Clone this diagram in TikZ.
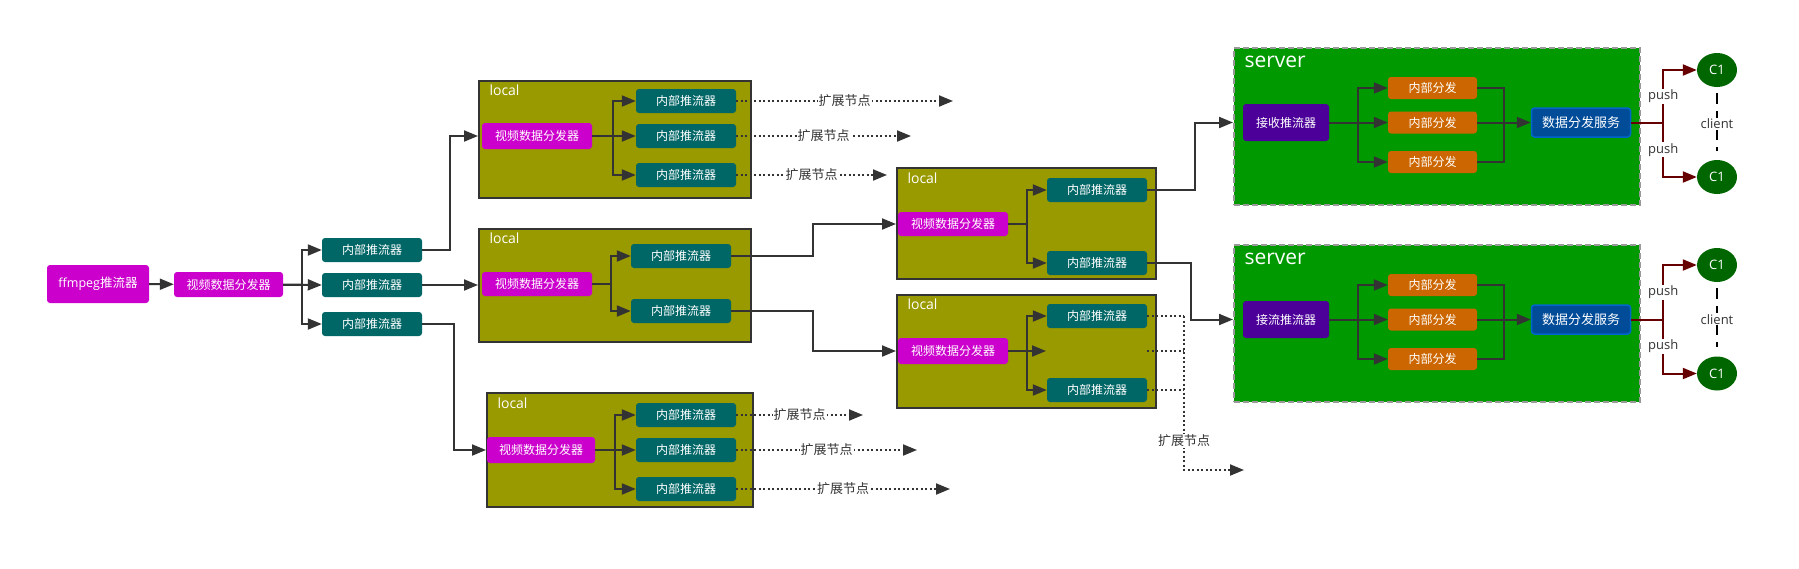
\documentclass[tikz,border=0pt]{standalone}
\usepackage{fontspec}
\setmainfont{Noto Sans CJK SC}
\newfontfamily\lat{Open Sans}
\usetikzlibrary{arrows.meta,shapes.geometric}
\definecolor{mag}{HTML}{CC00CC}
\definecolor{tealbox}{HTML}{006666}
\definecolor{olivebox}{HTML}{999900}
\definecolor{greenbox}{HTML}{009900}
\definecolor{orangebox}{HTML}{CC6600}
\definecolor{purplebox}{HTML}{4C0099}
\definecolor{bluebox}{HTML}{004C99}
\definecolor{blueedge}{HTML}{0066CC}
\definecolor{client}{HTML}{006600}
\definecolor{darkred}{HTML}{660000}
\definecolor{ink}{HTML}{333333}
\definecolor{dash}{HTML}{999999}

\begin{document}
\begin{tikzpicture}[
   x=1pt,y=-1pt,
   font=\fontsize{12}{14}\selectfont,
   box/.style={rounded corners=3pt,text=white,inner sep=0pt,minimum height=24pt},
   disp/.style={box,fill=mag,minimum width=110pt},
   pusher/.style={box,fill=tealbox,minimum width=100pt},
   part/.style={box,fill=orangebox,minimum width=89pt,minimum height=22pt},
   recv/.style={box,fill=purplebox,minimum width=86pt,minimum height=37pt},
   svc/.style={box,fill=bluebox,draw=blueedge,line width=1.5pt,minimum width=99pt,minimum height=29pt,font=\fontsize{13}{15}\selectfont},
   user/.style={ellipse,fill=client,text=white,minimum width=40pt,minimum height=34pt,inner sep=0pt,font=\lat\fontsize{13}{15}\selectfont},
   local/.style={draw=ink,line width=2pt,fill=olivebox,inner sep=0pt},
   server/.style={draw=dash,line width=2pt,dash pattern=on 6pt off 3pt,fill=greenbox,inner sep=0pt},
   tag/.style={anchor=west,text=white,font=\lat\fontsize{14}{16}\selectfont},
   title/.style={anchor=west,text=white,font=\lat\fontsize{21}{25}\selectfont},
   wire/.style={draw=ink,line width=2pt},
   to/.style={wire,-{Triangle[length=14pt,width=11pt]}},
   dots/.style={wire,dash pattern=on 2pt off 2.5pt},
   ext/.style={to,dash pattern=on 2pt off 2.5pt},
   extlbl/.style={fill=white,text=ink,inner sep=1pt,font=\fontsize{13}{15}\selectfont},
   push/.style={draw=darkred,line width=2pt},
   pushto/.style={push,-{Triangle[length=14pt,width=11pt]}},
   pushlbl/.style={fill=white,text=ink,inner sep=1pt,font=\lat\fontsize{13}{15}\selectfont}]
\useasboundingbox (0,0) rectangle (1799,568);
% containers
\node[local,minimum width=272pt,minimum height=117pt] (L1) at (615,139.5) {};
\node[local,minimum width=272pt,minimum height=113pt] (L2) at (615,285.5) {};
\node[local,minimum width=259pt,minimum height=111pt] (L3) at (1026.5,223.5) {};
\node[local,minimum width=259pt,minimum height=113pt] (L4) at (1026.5,351.5) {};
\node[local,minimum width=266pt,minimum height=114pt] (L5) at (620,450) {};
\node[server,minimum width=406pt,minimum height=157pt] (S1) at (1437,126.5) {};
\node[server,minimum width=406pt,minimum height=157pt] (S2) at (1437,323.5) {};
\node[tag] at (486,90) {local};
\node[tag] at (486,238) {local};
\node[tag] at (904,178) {local};
\node[tag] at (904,304) {local};
\node[tag] at (494,403) {local};
\node[title] at (1241,62) {server};
\node[title] at (1241,259) {server};
% source
\node[box,fill=mag,minimum width=102pt,minimum height=38pt,font=\fontsize{12.5}{15}\selectfont] (ff) at (98,284) {{\lat ffmpeg}推流器};
\node[disp,minimum width=109pt,minimum height=25pt] (d0) at (228.5,284.5) {视频数据分发器};
\node[pusher] (p1) at (372,250) {内部推流器};
\node[pusher] (p2) at (372,285) {内部推流器};
\node[pusher] (p3) at (372,324) {内部推流器};
% local 1
\node[disp,minimum height=26pt] (d1) at (537,136) {视频数据分发器};
\node[pusher] (p1a) at (686,101) {内部推流器};
\node[pusher] (p1b) at (686,136) {内部推流器};
\node[pusher] (p1c) at (686,175) {内部推流器};
% local 2
\node[disp] (d2) at (537,284) {视频数据分发器};
\node[pusher] (p2a) at (681,256) {内部推流器};
\node[pusher] (p2b) at (681,311) {内部推流器};
% local 3
\node[disp] (d3) at (953,224) {视频数据分发器};
\node[pusher] (p3a) at (1097,190) {内部推流器};
\node[pusher] (p3b) at (1097,263) {内部推流器};
% local 4
\node[disp,minimum height=26pt] (d4) at (953,351) {视频数据分发器};
\node[pusher] (p4a) at (1097,316) {内部推流器};
\node[pusher] (p4c) at (1097,390) {内部推流器};
% local 5
\node[disp,minimum width=108pt,minimum height=26pt] (d5) at (541,450) {视频数据分发器};
\node[pusher] (p5a) at (686,415) {内部推流器};
\node[pusher] (p5b) at (686,450) {内部推流器};
\node[pusher] (p5c) at (686,489) {内部推流器};
% server 1
\node[recv] (rx1) at (1286,122.5) {接收推流器};
\node[part] (f1a) at (1432.5,88) {内部分发};
\node[part] (f1b) at (1432.5,122.5) {内部分发};
\node[part] (f1c) at (1432.5,162) {内部分发};
\node[svc] (svc1) at (1581,122.5) {数据分发服务};
\node[user] (c1a) at (1717,70) {C1};
\node[user] (c1b) at (1717,177) {C1};
% server 2
\node[recv] (rx2) at (1286,319.5) {接流推流器};
\node[part] (f2a) at (1432.5,285) {内部分发};
\node[part] (f2b) at (1432.5,319.5) {内部分发};
\node[part] (f2c) at (1432.5,359) {内部分发};
\node[svc] (svc2) at (1581,319.5) {数据分发服务};
\node[user] (c2a) at (1717,265) {C1};
\node[user] (c2b) at (1717,373.5) {C1};
% free ends
\coordinate (x1a) at (953,101);
\coordinate (x1b) at (911,136);
\coordinate (x1c) at (887,175);
\coordinate (x5a) at (863,415);
\coordinate (x5b) at (917,450);
\coordinate (x5c) at (950,489);
\coordinate (m4) at (1046,351);
\coordinate (m4r) at (1147,351);
\coordinate (e4) at (1184,316);
\coordinate (e4b) at (1184,470);
\coordinate (e4c) at (1244,470);
% source links
\draw[to] (ff) -- (d0);
\draw[to] (d0.east) -- ++(19,0) |- (p1.west);
\draw[to] (d0.east) -- (p2.west);
\draw[to] (d0.east) -- ++(19,0) |- (p3.west);
\draw[to] (p1.east) -- ++(28,0) |- (L1.west |- d1);
\draw[to] (p2.east) -- (p2.east -| L2.west);
\draw[to] (p3.east) -- ++(32,0) |- (L5.west |- d5);
% local links
\draw[to] (d1.east) -- ++(21,0) |- (p1a.west);
\draw[to] (d1.east) -- (p1b.west);
\draw[to] (d1.east) -- ++(21,0) |- (p1c.west);
\draw[to] (d2.east) -- ++(19,0) |- (p2a.west);
\draw[to] (d2.east) -- ++(19,0) |- (p2b.west);
\draw[to] (d3.east) -- ++(19,0) |- (p3a.west);
\draw[to] (d3.east) -- ++(19,0) |- (p3b.west);
\draw[to] (d4.east) -- ++(19,0) |- (p4a.west);
\draw[to] (d4.east) -- (m4);
\draw[to] (d4.east) -- ++(19,0) |- (p4c.west);
\draw[to] (d5.east) -- ++(20,0) |- (p5a.west);
\draw[to] (d5.east) -- (p5b.west);
\draw[to] (d5.east) -- ++(20,0) |- (p5c.west);
\draw[to] (p2a.east) -- ++(82,0) |- (L3.west |- d3);
\draw[to] (p2b.east) -- ++(82,0) |- (L4.west |- d4);
\draw[to] (p3a.east) -- ++(48,0) |- (S1.west |- rx1);
\draw[to] (p3b.east) -- ++(44,0) |- (S2.west |- rx2);
% extension nodes
\draw[ext] (p1a.east) -- node[extlbl]{扩展节点} (x1a);
\draw[ext] (p1b.east) -- node[extlbl]{扩展节点} (x1b);
\draw[ext] (p1c.east) -- node[extlbl]{扩展节点} (x1c);
\draw[ext] (p5a.east) -- node[extlbl]{扩展节点} (x5a);
\draw[ext] (p5b.east) -- node[extlbl]{扩展节点} (x5b);
\draw[ext] (p5c.east) -- node[extlbl]{扩展节点} (x5c);
\draw[dots] (p4a.east) -- (e4);
\draw[dots] (m4r) -- (m4r -| e4);
\draw[dots] (p4c.east) -- (p4c.east -| e4);
\draw[ext] (e4) -- node[extlbl,pos=.81]{扩展节点} (e4b) -- (e4c);
% server 1 links
\draw[to] (rx1.east) -- ++(29,0) |- (f1a.west);
\draw[to] (rx1.east) -- (f1b.west);
\draw[to] (rx1.east) -- ++(29,0) |- (f1c.west);
\draw[wire] (f1a.east) -- ++(27,0) |- (f1c.east);
\draw[to] (f1b.east) -- (svc1.west);
\draw[push] (svc1.east) -- ++(32,0) coordinate (b1);
\draw[pushto] (b1) |- node[pushlbl,pos=.25]{push} (c1a.west);
\draw[pushto] (b1) |- node[pushlbl,pos=.25]{push} (c1b.west);
\draw[line width=2pt,dash pattern=on 11pt off 7pt,shorten <=6pt,shorten >=9pt] (c1a.south) -- node[pushlbl]{client} (c1b.north);
% server 2 links
\draw[to] (rx2.east) -- ++(29,0) |- (f2a.west);
\draw[to] (rx2.east) -- (f2b.west);
\draw[to] (rx2.east) -- ++(29,0) |- (f2c.west);
\draw[wire] (f2a.east) -- ++(27,0) |- (f2c.east);
\draw[to] (f2b.east) -- (svc2.west);
\draw[push] (svc2.east) -- ++(32,0) coordinate (b2);
\draw[pushto] (b2) |- node[pushlbl,pos=.25]{push} (c2a.west);
\draw[pushto] (b2) |- node[pushlbl,pos=.25]{push} (c2b.west);
\draw[line width=2pt,dash pattern=on 11pt off 7pt,shorten <=6pt,shorten >=9pt] (c2a.south) -- node[pushlbl]{client} (c2b.north);
\end{tikzpicture}
\end{document}
